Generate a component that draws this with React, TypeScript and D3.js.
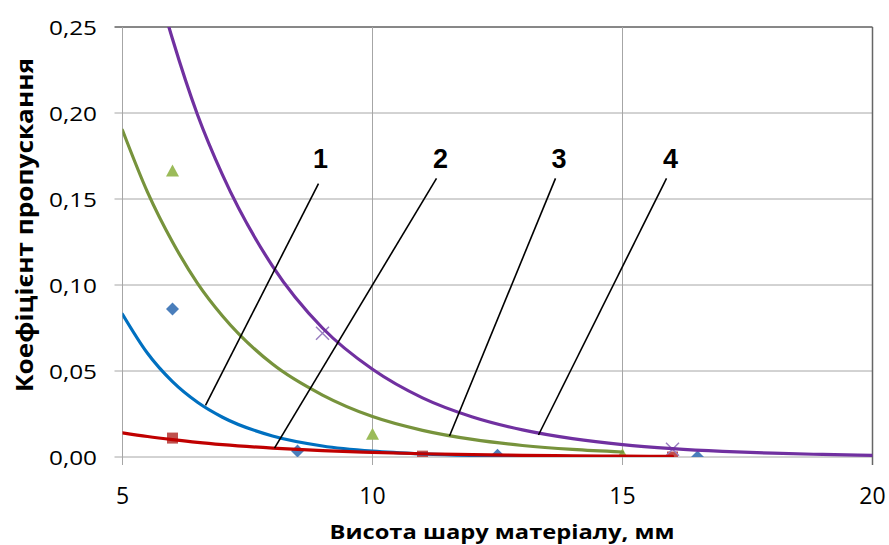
import React from 'react';
import * as d3 from 'd3';

const trendX = [5, 5.5, 6, 6.5, 7, 8, 9, 10, 11, 12, 13, 14, 15, 16, 17, 18, 19, 20];
const trend1 = [0.083, 0.0603, 0.0438, 0.0318, 0.0231, 0.0122, 0.0064, 0.0034, 0.0018, 0.0009, 0.0005, 0.0003, 0.0001, 0.0001, null, null, null, null];
const trend2 = [0.014, 0.0119, 0.0101, 0.0085, 0.0072, 0.0052, 0.0037, 0.0027, 0.0019, 0.0014, 0.001, 0.0007, 0.0005, 0.0004, null, null, null, null];
const trend3 = [0.19, 0.154, 0.125, 0.101, 0.082, 0.054, 0.036, 0.0235, 0.0155, 0.0102, 0.0067, 0.0044, 0.0029, null, null, null, null, null];
const trend4 = [0.358, 0.295, 0.243, 0.199, 0.164, 0.111, 0.075, 0.051, 0.0344, 0.0233, 0.0158, 0.0107, 0.0072, 0.0049, 0.0033, 0.0022, 0.0015, 0.001];

// measured points
const pts1X = [6, 8.5, 12.5, 16.5];
const pts1Y = [0.086, 0.0035, 0.001, 0];
const pts2X = [6, 11, 16];
const pts2Y = [0.011, 0.0005, 0];
const pts3X = [6, 10, 15];
const pts3Y = [0.166, 0.013, 0.001];
const pts4X = [9, 16];
const pts4Y = [0.072, 0.0045];

// curve numbers with leader lines
const labels = ['1', '2', '3', '4'];
const labelX = [8.96, 11.36, 13.73, 15.96];
const labelY = 0.168;
const leaderTopX = [8.92, 11.28, 13.66, 15.88];
const leaderTopY = [0.159, 0.162, 0.162, 0.162];
const leaderEndX = [6.66, 8.04, 11.54, 13.32];
const leaderEndY = [0.03, 0.0052, 0.0122, 0.0128];

const xTicks = [5, 10, 15, 20];
const yTicks = [0, 0.05, 0.1, 0.15, 0.2, 0.25];

const W = 889, H = 545;
const margin = { left: 122.5, right: 16.5, top: 27, bottom: 88 };

export default function App() {
  const x = d3.scaleLinear().domain([5, 20]).range([margin.left, W - margin.right]);
  const y = d3.scaleLinear().domain([0, 0.25]).range([H - margin.bottom, margin.top]);
  const fmt = (v: number) => v.toFixed(2).replace('.', ',');

  const line = d3.line<[number, number | null]>()
    .defined(d => d[1] != null)
    .x(d => x(d[0]))
    .y(d => y(d[1] as number))
    .curve(d3.curveMonotoneX);
  const path = (vals: (number | null)[]) => line(trendX.map((v, i) => [v, vals[i]]) as any) || '';

  const x0 = x(5), x1 = x(20), y0 = y(0), y1 = y(0.25);
  const grid = '#a6a6a6';

  return (
    <svg width={W} height={H} style={{ position: 'absolute', left: 0, top: 0, background: '#fff' }}
      fontFamily="'Open Sans', 'DejaVu Sans', sans-serif">
      <defs>
        <clipPath id="plot"><rect x={x0} y={y1} width={x1 - x0} height={y0 - y1} /></clipPath>
      </defs>
      {/* grid */}
      {yTicks.map(t => (
        <line key={'gy' + t} x1={x0 - 8} x2={x1} y1={y(t)} y2={y(t)} stroke={t === 0.25 ? '#111' : grid} strokeWidth={1} />
      ))}
      {xTicks.map(t => (
        <line key={'gx' + t} x1={x(t)} x2={x(t)} y1={y1} y2={y0 + 8} stroke={t === 20 ? '#666' : grid} strokeWidth={t === 20 ? 1.5 : 1} />
      ))}
      {/* tick labels */}
      {yTicks.map(t => (
        <text key={'ly' + t} x={97} y={y(t)} textAnchor="end" dominantBaseline="central" fontSize={20}
          textLength={48} lengthAdjust="spacingAndGlyphs" fill="#000">{fmt(t)}</text>
      ))}
      {xTicks.map(t => (
        <text key={'lx' + t} x={x(t)} y={495} textAnchor="middle" dominantBaseline="central" fontSize={23} fill="#000">{t}</text>
      ))}
      {/* axis titles */}
      <text x={502} y={539} textAnchor="middle" fontSize={20} fontWeight="bold" fill="#000"
        textLength={345} lengthAdjust="spacingAndGlyphs">Висота шару матеріалу, мм</text>
      <text transform="translate(33,225) rotate(-90)" textAnchor="middle" fontSize={24} fontWeight="bold" fill="#000"
        textLength={334} lengthAdjust="spacingAndGlyphs">Коефіцієнт пропускання</text>

      <g clipPath="url(#plot)">
        {/* markers */}
        {pts1X.map((v, i) => {
          const cx = x(v), cy = y(pts1Y[i]);
          return <path key={'d' + i} d={`M${cx},${cy - 6.5}L${cx + 6.5},${cy}L${cx},${cy + 6.5}L${cx - 6.5},${cy}Z`} fill="#4a7ebb" />;
        })}
        {pts2X.map((v, i) => (
          <rect key={'s' + i} x={x(v) - 5.5} y={y(pts2Y[i]) - 5.5} width={11} height={11} fill="#c0504d" />
        ))}
        {pts3X.map((v, i) => {
          const cx = x(v), cy = y(pts3Y[i]);
          return <path key={'t' + i} d={`M${cx},${cy - 7}L${cx + 6.5},${cy + 5}L${cx - 6.5},${cy + 5}Z`} fill="#9bbb59" />;
        })}
      </g>
      <g>
        {pts4X.map((v, i) => {
          const cx = x(v), cy = y(pts4Y[i]);
          return <path key={'x' + i} d={`M${cx - 6.5},${cy - 6.5}L${cx + 6.5},${cy + 6.5}M${cx + 6.5},${cy - 6.5}L${cx - 6.5},${cy + 6.5}`} stroke="#9a7fc0" strokeWidth={1.5} fill="none" />;
        })}
      </g>
      {/* trend curves */}
      <g clipPath="url(#plot)" fill="none" strokeWidth={3.2} strokeLinecap="round">
        <path d={path(trend1)} stroke="#0070c0" />
        <path d={path(trend2)} stroke="#c00000" />
        <path d={path(trend3)} stroke="#77933c" />
        <path d={path(trend4)} stroke="#7030a0" />
      </g>
      {/* leader lines and numbers */}
      {labels.map((l, i) => (
        <g key={'lab' + l}>
          <line x1={x(leaderTopX[i])} y1={y(leaderTopY[i])} x2={x(leaderEndX[i])} y2={y(leaderEndY[i])} stroke="#000" strokeWidth={1.6} />
          <text x={x(labelX[i])} y={y(labelY)} textAnchor="middle" fontFamily="'Liberation Sans', Arial, sans-serif"
            fontWeight="bold" fontSize={27} fill="#000">{l}</text>
        </g>
      ))}
    </svg>
  );
}
